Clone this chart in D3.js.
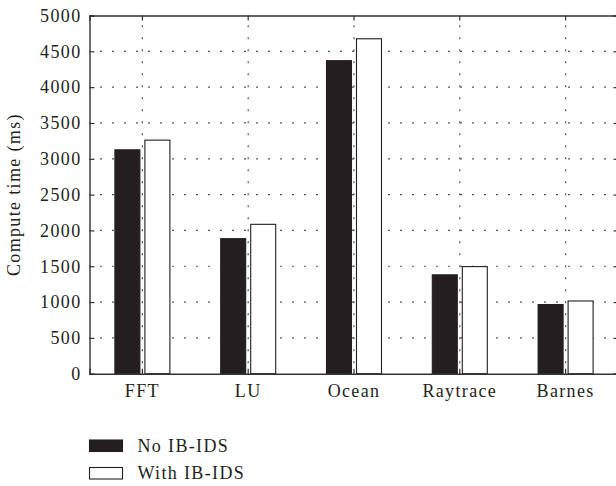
<!DOCTYPE html>
<html>
<head>
<meta charset="utf-8">
<script src="https://cdn.jsdelivr.net/npm/d3@7/dist/d3.min.js"></script>
<style>
  html, body { margin: 0; padding: 0; background: #fff; }
  svg { display: block; }
  text { font-family: "Liberation Serif", "Times New Roman", serif; fill: #231f20; letter-spacing: 1.35px; }
</style>
</head>
<body>
<svg id="chart" width="616" height="486"></svg>
<script>
// Benchmarks and compute times (ms)
const categories = ["FFT", "LU", "Ocean", "Raytrace", "Barnes"];
const seriesNames = ["No IB-IDS", "With IB-IDS"];
const noIbIds = [3125, 1885, 4370, 1380, 965];
const withIbIds = [3260, 2085, 4675, 1495, 1015];
const yTicks = [0, 500, 1000, 1500, 2000, 2500, 3000, 3500, 4000, 4500, 5000];

const seriesValues = [noIbIds, withIbIds];
const fills = ["#231f20", "#ffffff"];
const ink = "#231f20";
const fontSize = 18;

const svg = d3.select("#chart");
const plotLeft = 89.5, plotRight = 618.5, plotTop = 15.5, plotBottom = 373.7;

const x0 = d3.scaleBand().domain(categories).range([plotLeft, plotRight]).padding(0);
const x1 = d3.scaleBand().domain(seriesNames).range([-27.5, 27.5]).paddingInner(5 / 30).paddingOuter(0);
const y = d3.scaleLinear().domain([0, 5000]).range([plotBottom, plotTop]);

// Dotted grid
const grid = svg.append("g").attr("stroke", "#555").attr("stroke-width", 1.2)
  .attr("stroke-dasharray", "2,10").attr("fill", "none");
grid.selectAll("line.h").data(yTicks.filter(d => d > 0 && d < 5000)).join("line")
  .attr("class", "h")
  .attr("x1", plotLeft).attr("x2", plotRight)
  .attr("y1", d => y(d)).attr("y2", d => y(d))
  .attr("stroke-dashoffset", 1.5);
grid.selectAll("line.v").data(categories).join("line")
  .attr("class", "v")
  .attr("x1", d => x0(d) + x0.bandwidth() / 2).attr("x2", d => x0(d) + x0.bandwidth() / 2)
  .attr("y1", plotBottom).attr("y2", plotTop)
  .attr("stroke-dashoffset", 1.5);

// Bars
const groups = svg.append("g").selectAll("g").data(categories).join("g")
  .attr("transform", d => `translate(${x0(d) + x0.bandwidth() / 2},0)`);
groups.selectAll("rect")
  .data((c, i) => seriesNames.map((s, k) => ({ s, k, v: seriesValues[k][i] })))
  .join("rect")
  .attr("x", d => x1(d.s))
  .attr("width", x1.bandwidth())
  .attr("y", d => y(d.v))
  .attr("height", d => y(0) - y(d.v))
  .attr("fill", d => fills[d.k])
  .attr("stroke", ink)
  .attr("stroke-width", 1.1);

// Frame with inward ticks
const tickLen = 5;
const yLeft = d3.axisLeft(y).tickValues(yTicks).tickSize(-tickLen).tickPadding(8).tickFormat(d3.format("d"));
const yRight = d3.axisRight(y).tickValues(yTicks).tickSize(-tickLen).tickFormat("");
const xBottom = d3.axisBottom(x0).tickSize(-tickLen).tickPadding(10.5);
const xTop = d3.axisTop(x0).tickSize(-tickLen).tickFormat("");

function styleAxis(g) {
  g.select(".domain").attr("stroke", "#333").attr("stroke-width", 1.4);
  g.selectAll(".tick line").attr("stroke", "#333").attr("stroke-width", 1.2);
  g.selectAll(".tick text").attr("font-family", "Liberation Serif, Times New Roman, serif")
    .attr("font-size", fontSize).attr("fill", ink);
}
svg.append("g").attr("transform", `translate(${plotLeft},0)`).call(yLeft).call(styleAxis);
svg.append("g").attr("transform", `translate(${plotRight},0)`).call(yRight).call(styleAxis);
svg.append("g").attr("transform", `translate(0,${plotBottom})`).call(xBottom).call(styleAxis);
svg.append("g").attr("transform", `translate(0,${plotTop})`).call(xTop).call(styleAxis);

// Axis title
svg.append("text")
  .attr("transform", `translate(19.5,${(plotTop + plotBottom) / 2}) rotate(-90)`)
  .attr("text-anchor", "middle")
  .attr("font-size", fontSize)
  .text("Compute time (ms)");

// Legend
const legend = svg.append("g").attr("transform", "translate(89.5,440)");
const items = legend.selectAll("g").data(seriesNames).join("g")
  .attr("transform", (d, i) => `translate(0,${i * 27.5})`);
items.append("rect")
  .attr("width", 33).attr("height", 11.5)
  .attr("fill", (d, i) => fills[i])
  .attr("stroke", ink).attr("stroke-width", 1.1);
items.append("text")
  .attr("x", 48).attr("y", 11.8)
  .attr("font-size", fontSize)
  .text(d => d);
</script>
</body>
</html>
